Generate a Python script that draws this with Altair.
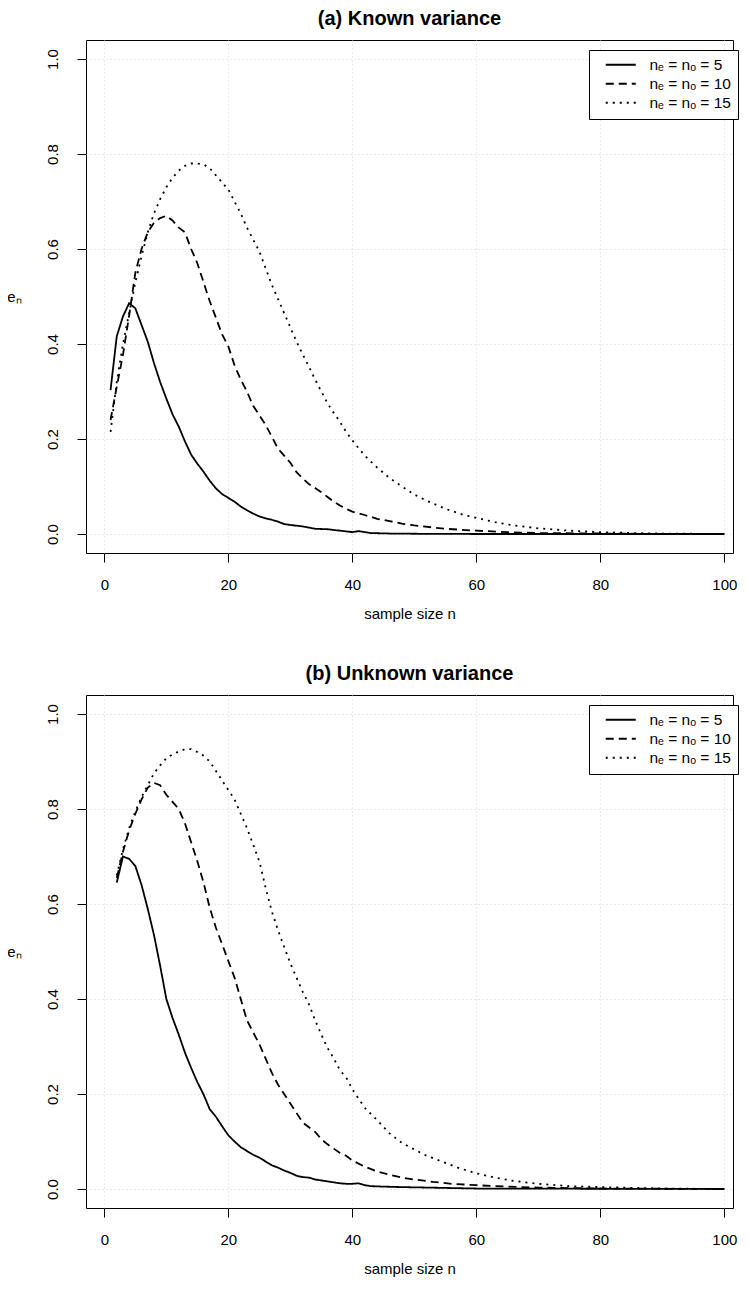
import altair as alt
import pandas as pd

FONT = "Liberation Sans Narrow, Arial Narrow, Liberation Sans, Arial, sans-serif"

LABELS = ["n\u2091 = n\u2092 = 5", "n\u2091 = n\u2092 = 10", "n\u2091 = n\u2092 = 15"]
DASHES = [[1, 0], [8, 5], [2, 5]]

X_TICKS = [0, 20, 40, 60, 80, 100]
Y_TICKS = [0, 0.2, 0.4, 0.6, 0.8, 1.0]

# ---- Panel (a): known variance ----
A5_X = [1, 2, 3, 4, 5, 6, 7, 8, 9, 10, 11, 12, 13, 14, 15, 16, 17, 18, 19, 20,
        21, 22, 23, 24, 25, 26, 27, 28, 29, 30, 32, 34, 36, 38, 40, 41, 43, 46, 50, 60, 100]
A5_Y = [0.303, 0.416, 0.458, 0.486, 0.475, 0.44, 0.405, 0.36, 0.32, 0.285, 0.252, 0.226,
        0.195, 0.167, 0.148, 0.131, 0.112, 0.096, 0.084, 0.076, 0.068, 0.058, 0.05, 0.043,
        0.037, 0.033, 0.03, 0.026, 0.021, 0.019, 0.016, 0.011, 0.01, 0.007, 0.004, 0.006,
        0.002, 0.001, 0.0005, 0.0, 0.0]

A10_X = [1, 2, 3, 4, 5, 6, 7, 8, 9, 10, 11, 12, 13, 14, 15, 16, 17, 18, 19, 20,
         21, 22, 23, 24, 25, 26, 27, 28, 29, 30, 31, 32, 33, 34, 35, 36, 37, 38, 39, 40,
         42, 44, 46, 48, 50, 55, 60, 65, 70, 80, 90, 100]
A10_Y = [0.24, 0.31, 0.377, 0.46, 0.55, 0.60, 0.635, 0.655, 0.665, 0.67, 0.66, 0.645,
         0.635, 0.60, 0.57, 0.53, 0.49, 0.455, 0.42, 0.395, 0.355, 0.325, 0.30, 0.27,
         0.25, 0.23, 0.205, 0.18, 0.165, 0.15, 0.13, 0.117, 0.105, 0.097, 0.088, 0.078,
         0.068, 0.06, 0.053, 0.047, 0.04, 0.032, 0.027, 0.022, 0.018, 0.011, 0.007,
         0.004, 0.002, 0.001, 0.0, 0.0]

A15_X = [1, 2, 3, 4, 5, 6, 7, 8, 9, 10, 11, 12, 13, 14, 15, 16, 17, 18, 19, 20,
         21, 22, 23, 24, 25, 26, 27, 28, 29, 30, 31, 32, 33, 34, 35, 36, 37, 38, 39, 40,
         42, 44, 46, 48, 50, 52, 55, 58, 60, 63, 66, 70, 75, 80, 85, 90, 100]
A15_Y = [0.215, 0.32, 0.40, 0.465, 0.53, 0.585, 0.635, 0.675, 0.705, 0.73, 0.75, 0.765,
         0.775, 0.78, 0.78, 0.778, 0.77, 0.755, 0.74, 0.725, 0.70, 0.675, 0.645, 0.62,
         0.595, 0.56, 0.525, 0.495, 0.465, 0.435, 0.405, 0.378, 0.352, 0.325, 0.30,
         0.275, 0.255, 0.236, 0.215, 0.197, 0.165, 0.14, 0.118, 0.1, 0.083, 0.07, 0.053,
         0.04, 0.034, 0.025, 0.018, 0.012, 0.007, 0.004, 0.002, 0.001, 0.0]

# ---- Panel (b): unknown variance ----
B5_X = [2, 3, 4, 5, 6, 7, 8, 9, 10, 11, 12, 13, 14, 15, 16, 17, 18, 19, 20, 21, 22,
        23, 24, 25, 26, 27, 28, 29, 30, 31, 32, 33, 34, 35, 36, 37, 38, 39, 40, 41, 42,
        43, 45, 48, 52, 56, 60, 100]
B5_Y = [0.645, 0.70, 0.695, 0.68, 0.64, 0.59, 0.535, 0.47, 0.40, 0.36, 0.325, 0.287,
        0.255, 0.225, 0.199, 0.168, 0.152, 0.132, 0.113, 0.10, 0.088, 0.08, 0.072, 0.066,
        0.058, 0.05, 0.045, 0.039, 0.034, 0.028, 0.025, 0.024, 0.02, 0.018, 0.016, 0.014,
        0.012, 0.011, 0.011, 0.012, 0.008, 0.006, 0.005, 0.004, 0.003, 0.002, 0.001, 0.0]

B10_X = [2, 3, 4, 5, 6, 7, 8, 9, 10, 11, 12, 13, 14, 15, 16, 17, 18, 19, 20, 21, 22,
         23, 24, 25, 26, 27, 28, 29, 30, 31, 32, 33, 34, 35, 36, 37, 38, 39, 40, 42, 44,
         46, 48, 50, 53, 56, 60, 65, 70, 80, 100]
B10_Y = [0.655, 0.71, 0.755, 0.79, 0.82, 0.845, 0.855, 0.85, 0.83, 0.815, 0.80, 0.77,
         0.73, 0.69, 0.645, 0.592, 0.55, 0.515, 0.48, 0.445, 0.40, 0.355, 0.33, 0.305,
         0.275, 0.245, 0.22, 0.20, 0.18, 0.16, 0.14, 0.13, 0.12, 0.105, 0.094, 0.085,
         0.076, 0.07, 0.06, 0.047, 0.037, 0.03, 0.024, 0.02, 0.015, 0.011, 0.008, 0.005,
         0.003, 0.001, 0.0]

B15_X = [2, 3, 4, 5, 6, 7, 8, 9, 10, 11, 12, 13, 14, 15, 16, 17, 18, 19, 20, 21, 22,
         23, 24, 25, 26, 27, 28, 29, 30, 31, 32, 33, 34, 35, 36, 37, 38, 39, 40, 42, 44,
         46, 48, 50, 52, 54, 57, 60, 63, 66, 70, 75, 80, 90, 100]
B15_Y = [0.66, 0.715, 0.76, 0.795, 0.825, 0.85, 0.875, 0.892, 0.907, 0.915, 0.921, 0.926,
         0.926, 0.92, 0.912, 0.90, 0.88, 0.86, 0.84, 0.82, 0.79, 0.76, 0.725, 0.69, 0.635,
         0.585, 0.545, 0.51, 0.475, 0.445, 0.415, 0.389, 0.355, 0.325, 0.297, 0.275, 0.25,
         0.235, 0.21, 0.171, 0.145, 0.117, 0.097, 0.083, 0.07, 0.06, 0.045, 0.033, 0.024,
         0.017, 0.011, 0.006, 0.004, 0.001, 0.0]


def frame(series):
    rows = []
    for label, xs, ys in series:
        for i, (x, y) in enumerate(zip(xs, ys)):
            rows.append({"n": x, "e": y, "series": label, "order": i})
    return pd.DataFrame(rows)


def panel(df, title):
    x_axis = alt.Axis(values=X_TICKS, format="d", title="sample size n",
                      labelPadding=15, titlePadding=14)
    y_axis = alt.Axis(values=Y_TICKS, format=".1f", title="e\u2099",
                      labelAngle=270, labelAlign="center", labelBaseline="bottom",
                      labelPadding=17, titleAngle=0, titleX=-72, titleY=256,
                      titleAlign="center", titleBaseline="middle")
    return alt.Chart(df).mark_line(color="black", strokeWidth=1.8).encode(
        x=alt.X("n:Q", scale=alt.Scale(domain=[-2.96, 101.4], nice=False, zero=False),
                axis=x_axis),
        y=alt.Y("e:Q", scale=alt.Scale(domain=[-0.04, 1.04], nice=False, zero=False),
                axis=y_axis),
        strokeDash=alt.StrokeDash(
            "series:N",
            scale=alt.Scale(domain=LABELS, range=DASHES),
            legend=alt.Legend(title=None, orient="none", legendX=503, legendY=10,
                              symbolType="M0.4,0L6.4,0", symbolSize=100,
                              symbolStrokeWidth=1.8, symbolStrokeColor="black",
                              symbolFillColor="transparent",
                              labelFontSize=15.5, labelFont=FONT, labelOffset=38,
                              rowPadding=2, padding=7, strokeColor="black",
                              fillColor="white", cornerRadius=0),
        ),
        order="order:Q",
    ).properties(
        width=647, height=513,
        title=alt.TitleParams(title, fontSize=20, fontWeight="bold", font=FONT,
                              anchor="middle", offset=11),
    )


df_a = frame([(LABELS[0], A5_X, A5_Y), (LABELS[1], A10_X, A10_Y), (LABELS[2], A15_X, A15_Y)])
df_b = frame([(LABELS[0], B5_X, B5_Y), (LABELS[1], B10_X, B10_Y), (LABELS[2], B15_X, B15_Y)])

chart = alt.vconcat(
    panel(df_a, "(a) Known variance"),
    panel(df_b, "(b) Unknown variance"),
    spacing=142,
    bounds="flush",
    background="white",
    padding={"left": -2, "top": 0, "right": 0, "bottom": 0},
).resolve_scale(strokeDash="independent").resolve_legend(strokeDash="independent").configure_view(
    stroke="black", strokeWidth=1
).configure_axis(
    domain=False, ticks=True, tickColor="black", tickSize=9, tickWidth=1,
    grid=True, gridColor="#d4d4d4", gridDash=[1, 3], gridWidth=1,
    labelFont=FONT, labelFontSize=15, labelColor="black",
    titleFont=FONT, titleFontSize=15, titleFontWeight="normal", titleColor="black",
)

chart.save("out.html", embed_options={"renderer": "svg", "actions": False})
